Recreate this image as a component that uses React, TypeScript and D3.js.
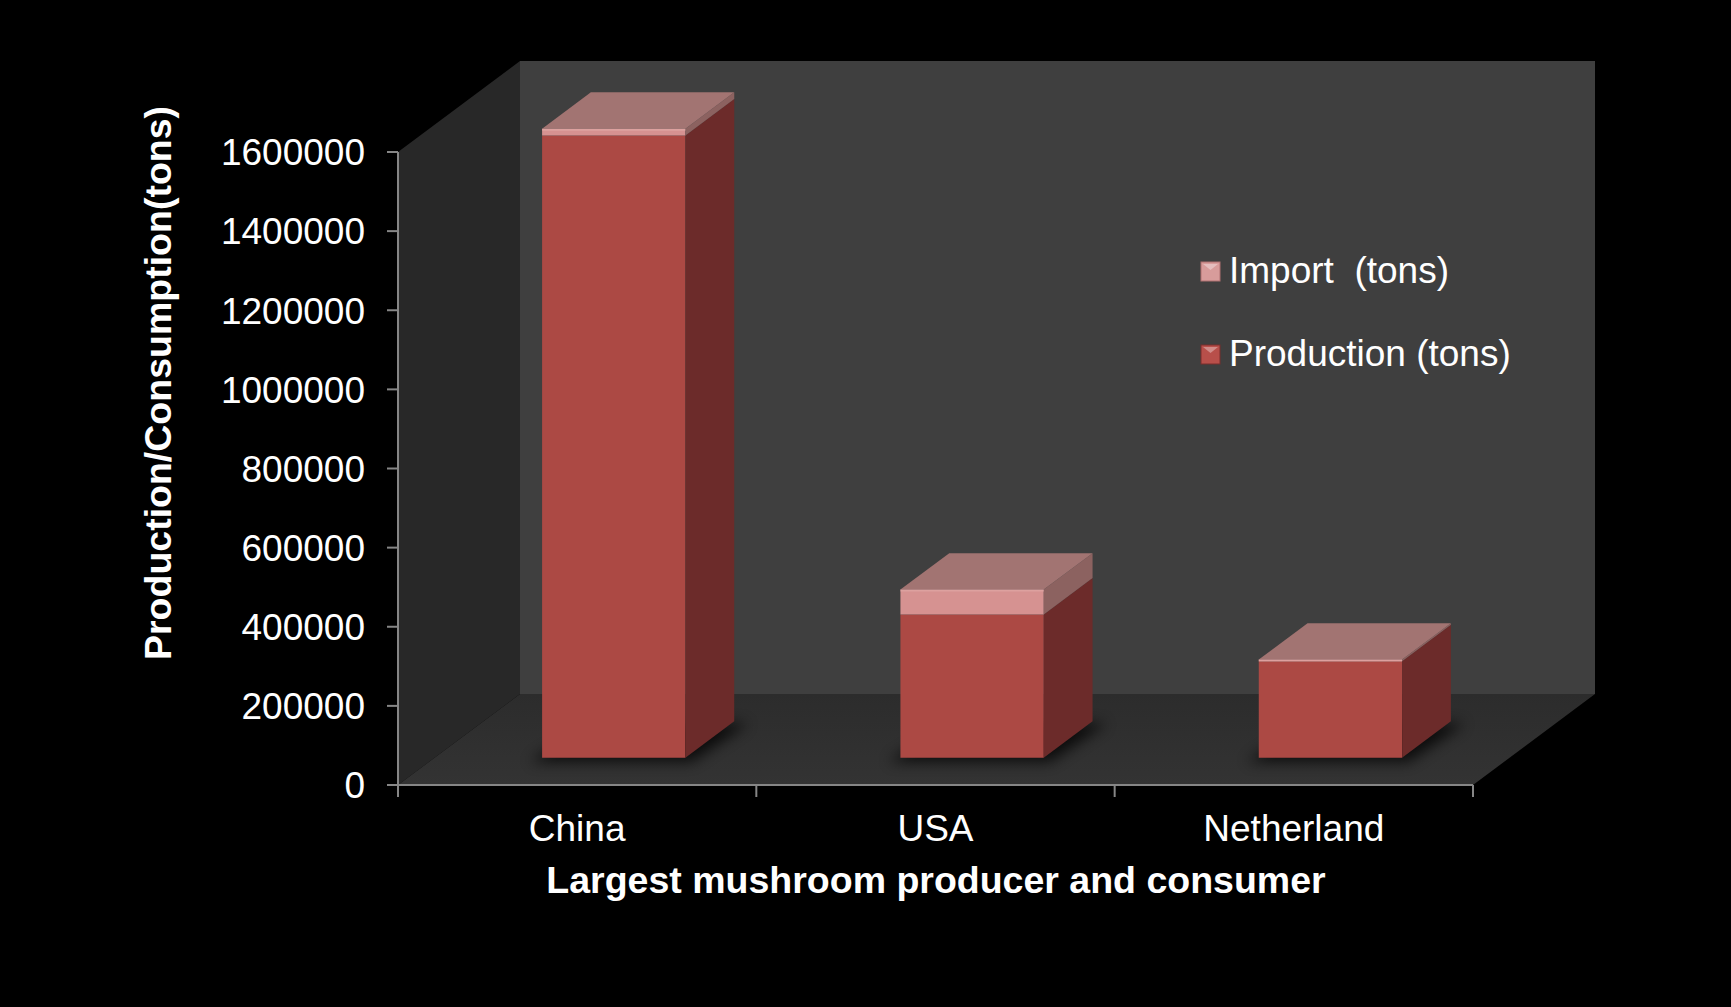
import React from "react";
import * as d3 from "d3";

const categories = ["China", "USA", "Netherland"];
const production = [1573000, 362000, 244000];
const imports = [17000, 63000, 4000];
const yTicks = [0, 200000, 400000, 600000, 800000, 1000000, 1200000, 1400000, 1600000];
const legendLabels = ["Import  (tons)", "Production (tons)"];
const xTitle = "Largest mushroom producer and consumer";
const yTitle = "Production/Consumption(tons)";

const W = 1731;
const H = 1007;
const FONT = "'Liberation Sans', Arial, Helvetica, sans-serif";
const FS = 37;
const FSB = 37.5;

export default function App() {
  const x0 = 398, x1 = 1473, yBase = 785, yTop = 152;
  const DX = 122, DY = -91; // depth vector of floor
  const y = d3.scaleLinear().domain([0, 1600000]).range([yBase, yTop]);
  const x = d3.scaleBand<string>().domain(categories).range([x0, x1]).paddingInner(0.6).paddingOuter(0.3);
  const fOff = 0.3, fDepth = 0.4;
  const ox = DX * fOff, oy = DY * fOff; // bar front plane offset
  const bdx = DX * fDepth, bdy = DY * fDepth; // bar depth

  const pts = (a: number[][]) => a.map((p) => p.join(",")).join(" ");

  const bars = categories.map((c, i) => {
    const bx0 = (x(c) as number) + ox;
    const bx1 = bx0 + x.bandwidth();
    const segs = [
      { v0: 0, v1: production[i], front: "#ac4944", side: "#6c2b2a" },
      { v0: production[i], v1: production[i] + imports[i], front: "#d69291", side: "#8c6260" },
    ];
    const top = y(production[i] + imports[i]) + oy;
    const bot = y(0) + oy;
    return (
      <g key={c}>
        <polygon
          points={pts([
            [bx0 - 12, bot + 4],
            [bx1 + 6, bot + 4],
            [bx1 + bdx + 14, bot + bdy + 2],
            [bx0 + bdx, bot + bdy + 2],
          ])}
          fill="#000"
          opacity={0.75}
          filter="url(#blur)"
        />
        {segs.map((s, j) => {
          const ya = y(s.v1) + oy;
          const yb = y(s.v0) + oy;
          return (
            <g key={j}>
              <polygon points={pts([[bx0, ya], [bx1, ya], [bx1, yb], [bx0, yb]])} fill={s.front} />
              <polygon points={pts([[bx1, ya], [bx1 + bdx, ya + bdy], [bx1 + bdx, yb + bdy], [bx1, yb]])} fill={s.side} />
            </g>
          );
        })}
        <polygon
          points={pts([[bx0, top], [bx1, top], [bx1 + bdx, top + bdy], [bx0 + bdx, top + bdy]])}
          fill="#a27472"
        />
        <line x1={bx0} x2={bx1} y1={top + 1} y2={top + 1} stroke="#e0a8a6" strokeWidth={2} opacity={0.7} />
      </g>
    );
  });

  const axisColor = "#868686";

  return (
    <svg width={W} height={H} style={{ position: "fixed", left: 0, top: 0, background: "#000" }}>
      <defs>
        <filter id="blur" x="-20%" y="-50%" width="140%" height="200%">
          <feGaussianBlur stdDeviation="7" />
        </filter>
        <linearGradient id="floorGrad" x1="0" y1="0" x2="0" y2="1">
          <stop offset="0" stopColor="#2c2c2c" />
          <stop offset="1" stopColor="#333333" />
        </linearGradient>
      </defs>
      <rect width={W} height={H} fill="#000" />
      {/* side wall */}
      <polygon
        points={pts([[x0, y(0)], [x0 + DX, y(0) + DY], [x0 + DX, y(1600000) + DY], [x0, y(1600000)]])}
        fill="#282828"
      />
      {/* back wall */}
      <polygon
        points={pts([
          [x0 + DX, y(1600000) + DY],
          [x1 + DX, y(1600000) + DY],
          [x1 + DX, y(0) + DY],
          [x0 + DX, y(0) + DY],
        ])}
        fill="#3f3f3f"
      />
      {/* floor */}
      <polygon
        points={pts([[x0, y(0)], [x1, y(0)], [x1 + DX, y(0) + DY], [x0 + DX, y(0) + DY]])}
        fill="url(#floorGrad)"
      />
      {bars}
      {/* y axis */}
      <line x1={x0} x2={x0} y1={y(0)} y2={y(1600000)} stroke={axisColor} strokeWidth={2} />
      {yTicks.map((t) => (
        <g key={t}>
          <line x1={x0 - 11} x2={x0} y1={y(t)} y2={y(t)} stroke={axisColor} strokeWidth={2} />
          <text x={365} y={y(t)} dy="0.36em" textAnchor="end" fill="#fff" fontSize={FS} fontFamily={FONT}>
            {t}
          </text>
        </g>
      ))}
      {/* x axis */}
      <line x1={x0} x2={x1} y1={y(0)} y2={y(0)} stroke={axisColor} strokeWidth={2} />
      {[x0, ...categories.map((c) => (x(c) as number) + x.bandwidth() / 2 + x.step() / 2)].map((tx, i) => (
        <line key={i} x1={tx} x2={tx} y1={y(0)} y2={y(0) + 12} stroke={axisColor} strokeWidth={2} />
      ))}
      {categories.map((c) => (
        <text
          key={c}
          x={(x(c) as number) + x.bandwidth() / 2}
          y={841}
          textAnchor="middle"
          fill="#fff"
          fontSize={FS}
          fontFamily={FONT}
        >
          {c}
        </text>
      ))}
      <text x={936} y={893} textAnchor="middle" fill="#fff" fontSize={FSB} fontWeight="bold" fontFamily={FONT}>
        {xTitle}
      </text>
      <text
        transform={`translate(171, 383) rotate(-90)`}
        textAnchor="middle"
        fill="#fff"
        fontSize={FSB}
        fontWeight="bold"
        fontFamily={FONT}
      >
        {yTitle}
      </text>
      {/* legend */}
      {legendLabels.map((l, i) => {
        const by = 283 + i * 83;
        const colors = [["#d89c9b", "#b07070"], ["#b84f4a", "#7a2e2c"]][i];
        return (
          <g key={l}>
            <rect x={1201} y={by - 21} width={19} height={19} fill={colors[0]} stroke={colors[1]} strokeWidth={1} />
            <polygon points={pts([[1203, by - 19], [1218, by - 19], [1210.5, by - 13]])} fill="#fff" opacity={0.35} />
            <text x={1229} y={by} fill="#fff" fontSize={FS} fontFamily={FONT} style={{ whiteSpace: "pre" }}>
              {l}
            </text>
          </g>
        );
      })}
    </svg>
  );
}
